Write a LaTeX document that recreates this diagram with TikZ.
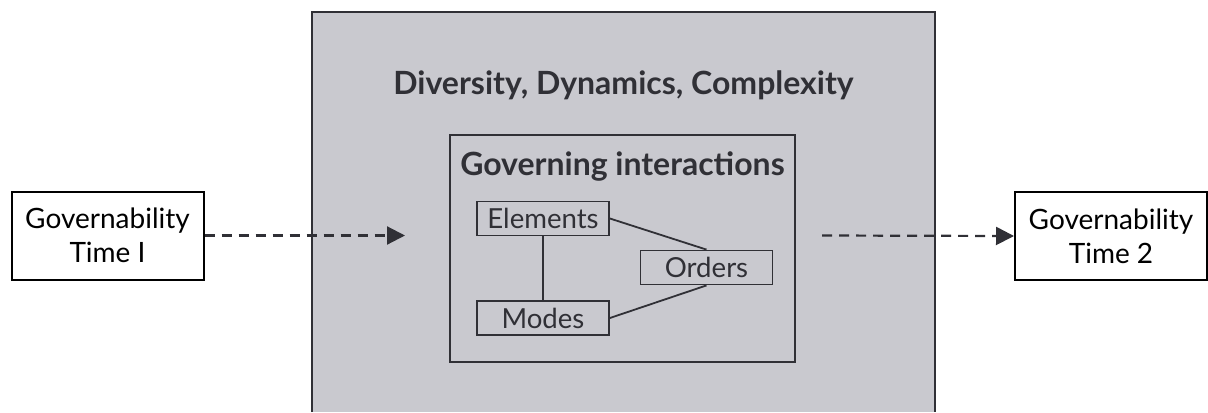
\documentclass[tikz,border=0pt]{standalone}
\usepackage{fontspec}
\setmainfont{Lato}
\usetikzlibrary{arrows.meta}
\usetikzlibrary{positioning}
\definecolor{panelgray}{RGB}{201,201,207}
\definecolor{inkgray}{RGB}{48,48,54}

\begin{document}
\begin{tikzpicture}[x=0.5pt,y=-0.5pt,
    govbox/.style={draw=black, line width=1pt, fill=white, align=center,
        minimum width=96pt, minimum height=44pt, inner sep=0pt,
        font=\fontsize{14}{17}\selectfont},
    partbox/.style={draw=inkgray, line width=0.9pt, text=inkgray,
        minimum width=66pt, minimum height=17pt, inner sep=0pt,
        font=\fontsize{13.8}{15}\selectfont},
    link/.style={draw=inkgray, line width=0.9pt},
    flow/.style={draw=inkgray, line width=1.1pt, dash pattern=on 5pt off 3.5pt,
        -{Triangle[length=9pt,width=9pt]}}]

    \useasboundingbox (0,0) rectangle (1208,412);

    % Background panel
    \fill[panelgray] (312,12) rectangle (935,412);
    \draw[inkgray, line width=0.9pt] (312,412) -- (312,12) -- (935,12) -- (935,412);
    \node[text=inkgray, font=\bfseries\fontsize{16}{18}\selectfont] (title) at (623.5,85) {Diversity, Dynamics, Complexity};

    % Governing interactions
    \draw[inkgray, line width=0.9pt] (450,135) rectangle (795,362);
    \node[text=inkgray, font=\bfseries\fontsize{16}{18}\selectfont] (inter) at (622.5,166) {Governing interactions};
    \node[partbox] (elements) at (543,218.5) {Elements};
    \node[partbox] (orders) at (706.5,267.5) {Orders};
    \node[partbox] (modes) at (543,318) {Modes};
    \draw[link] (elements.south) -- (modes.north);
    \draw[link] (elements.east) -- (orders.north);
    \draw[link] (modes.east) -- (orders.south);

    % Governability before and after
    \node[govbox] (timeone) at (107.5,235.5) {Governability\\Time I};
    \node[govbox] (timetwo) at (1111,236) {Governability\\Time 2};
    \coordinate (inend) at (405,235.5);
    \coordinate (outstart) at (822,235.5);
    \draw[flow] (timeone.east) -- (inend);
    \draw[flow] (outstart) -- (timetwo.west);
\end{tikzpicture}
\end{document}
